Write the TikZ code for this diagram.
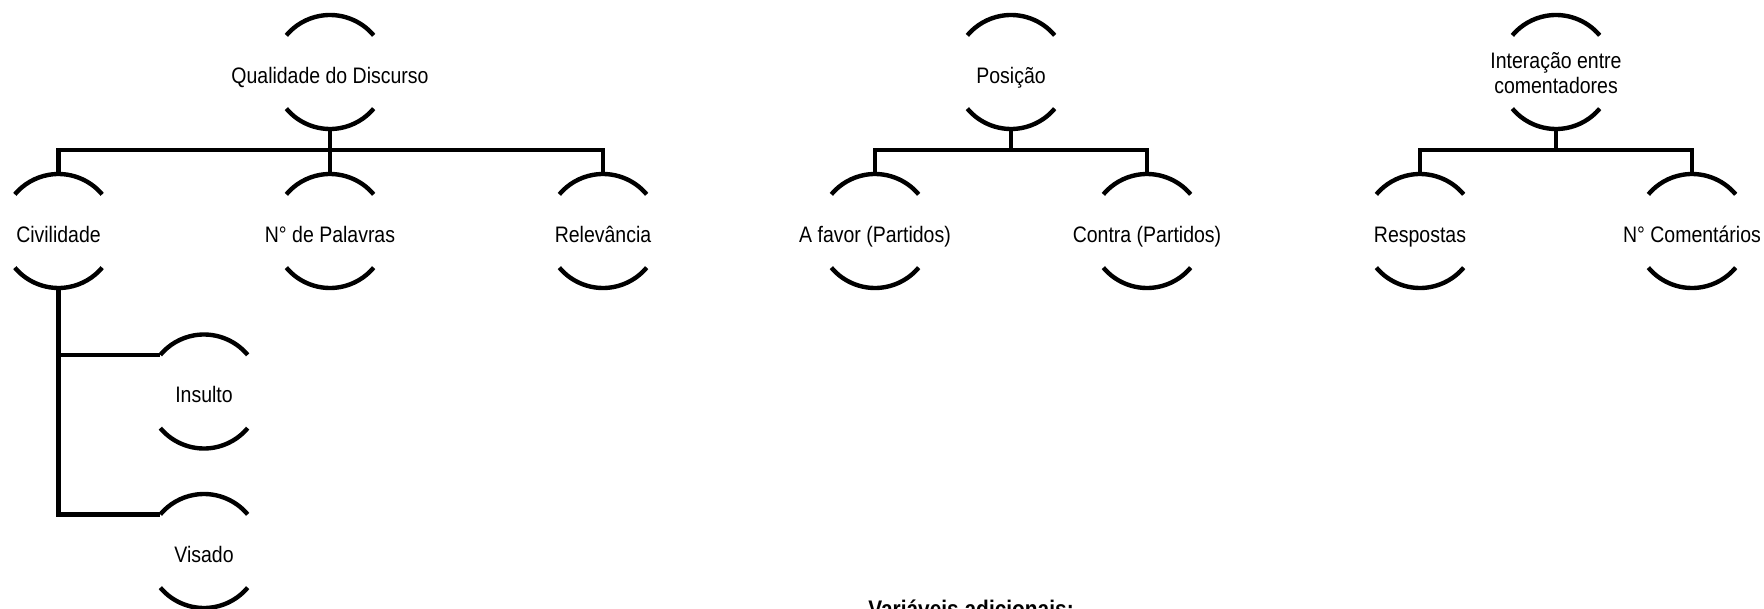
\documentclass[tikz,border=0pt]{standalone}
\usepackage{fontspec}
\setmainfont{Liberation Sans}[FakeStretch=0.87]
\begin{document}
\begin{tikzpicture}[x=0.5pt,y=-0.5pt,
  vnode/.style={circle, minimum size=57pt, inner sep=0pt, outer sep=0pt},
  vtext/.style={font=\fontsize{11.2}{12.8}\selectfont, inner sep=0pt, text height=8.2pt, text depth=2.4pt, yshift=-2.8pt},
  vtext2/.style={font=\fontsize{11.2}{12.8}\selectfont, align=center, inner sep=0pt, yshift=-0.5pt},
  arcline/.style={line width=2.2pt},
  conn/.style={line width=2.2pt}]
\useasboundingbox (0,0) rectangle (1764,609);
% top level
\node[vnode, label={[vtext]center:Qualidade do Discurso}] (q) at (330,72) {};
\node[vnode, label={[vtext]center:Posição}] (p) at (1011,72) {};
\node[vnode, label={[vtext2]center:Interação entre\\comentadores}] (i) at (1556,72) {};
% second level
\node[vnode, label={[vtext]center:Civilidade}] (civ) at (58.5,231) {};
\node[vnode, label={[vtext]center:N° de Palavras}] (pal) at (330,231) {};
\node[vnode, label={[vtext]center:Relevância}] (rel) at (603,231) {};
\node[vnode, label={[vtext]center:A favor (Partidos)}] (fav) at (875,231) {};
\node[vnode, label={[vtext]center:Contra (Partidos)}] (con) at (1147,231) {};
\node[vnode, label={[vtext]center:Respostas}] (res) at (1420,231) {};
\node[vnode, label={[vtext]center:N° Comentários}] (com) at (1692,231) {};
% third level
\node[vnode, label={[vtext]center:Insulto}] (ins) at (204,391.5) {};
\node[vnode, label={[vtext]center:Visado}] (vis) at (204,551) {};
% arcs
\foreach \n in {q,p,i,civ,pal,rel,fav,con,res,com,ins,vis}{
  \draw[arcline] (\n.40) arc[start angle=40, end angle=140, radius=28.5pt];
  \draw[arcline] (\n.220) arc[start angle=220, end angle=320, radius=28.5pt];
}
% connectors
\draw[conn] (q.south) -- ++(0,21) -| (civ.north);
\draw[conn] (q.south) -- ++(0,21) -| (rel.north);
\draw[conn] (q.south) -- (pal.north);
\draw[conn] (p.south) -- ++(0,21) -| (fav.north);
\draw[conn] (p.south) -- ++(0,21) -| (con.north);
\draw[conn] (i.south) -- ++(0,21) -| (res.north);
\draw[conn] (i.south) -- ++(0,21) -| (com.north);
\draw[conn] (civ.south) |- (ins.140);
\draw[conn] (civ.south) |- (vis.140);
% additional
\node[font=\fontsize{12}{14}\selectfont\bfseries, anchor=base, inner sep=0pt] (add) at (971,617) {Variáveis adicionais:};
\end{tikzpicture}
\end{document}
